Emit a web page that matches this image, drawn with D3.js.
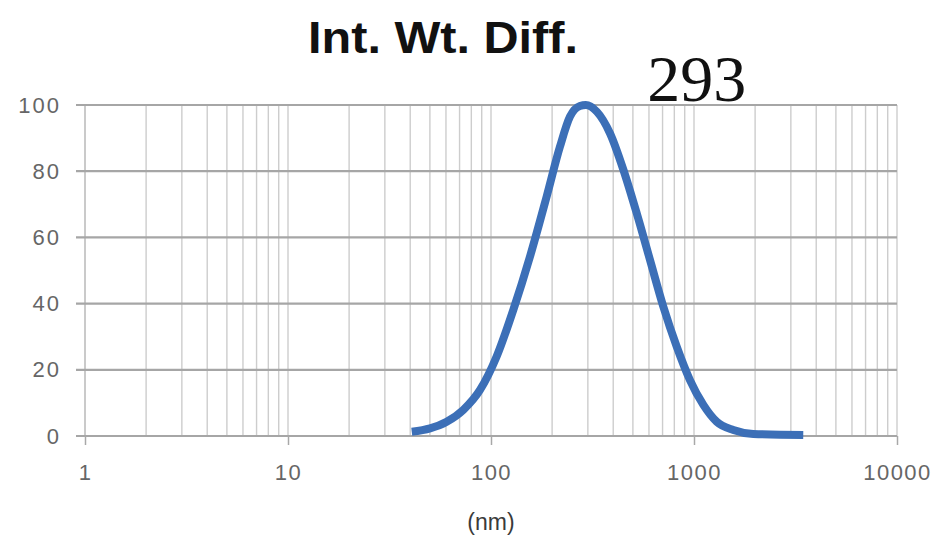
<!DOCTYPE html>
<html>
<head>
<meta charset="utf-8">
<script src="https://cdn.jsdelivr.net/npm/d3@7"></script>
<style>
  html, body { margin: 0; padding: 0; background: #fff; }
  svg { display: block; }
</style>
</head>
<body>
<svg id="chart" width="936" height="536"></svg>
<script>
// Intensity-weighted size distribution (diameter in nm vs. relative intensity)
const sizeNm = [40.7, 50.1, 60.5, 73.1, 88.3, 106.6, 128.8, 155.6, 187.9, 218.6, 245, 274, 293,
                332, 386, 449, 522, 607, 706, 822, 955, 1112, 1294, 1563, 1960, 3453];
const intensity = [1.3, 2.3, 4.3, 7.9, 13.9, 24.0, 38.1, 54.2, 72.3, 87.4, 96.5, 99.7, 100,
                   98.0, 91.4, 80.4, 67.3, 53.2, 39.1, 27.0, 16.9, 9.4, 4.3, 1.8, 0.6, 0.3];

const xTickValues = [1, 10, 100, 1000, 10000];
const xTickLabels = ["1", "10", "100", "1000", "10000"];
const yTickValues = [0, 20, 40, 60, 80, 100];

const titleText = "Int. Wt. Diff.";
const xAxisTitle = "(nm)";
const peakLabel = "293";
const peakSize = 293;
const peakValue = 100;

const svg = d3.select("#chart");
const margin = { left: 85, right: 39, top: 105, bottom: 100 };
const W = 936, H = 536;

const x = d3.scaleLog().domain([1, 10000]).range([margin.left, W - margin.right]);
const y = d3.scaleLinear().domain([0, 100]).range([H - margin.bottom, margin.top]);

// log gridlines: 1..9 in every decade
const minorVals = [];
for (let d = 1; d < 10000; d *= 10) {
  for (let k = 1; k <= 9; k++) minorVals.push(d * k);
}
minorVals.push(10000);

const grid = svg.append("g");
grid.selectAll("line.v")
  .data(minorVals)
  .join("line")
  .attr("class", "v")
  .attr("x1", d => x(d)).attr("x2", d => x(d))
  .attr("y1", y(100)).attr("y2", y(0))
  .attr("stroke", d => d === 1 ? "#b4b4b4" : "#cdcdcd")
  .attr("stroke-width", 1.4);

grid.selectAll("line.h")
  .data(yTickValues)
  .join("line")
  .attr("class", "h")
  .attr("x1", x(1) - 9).attr("x2", x(10000))
  .attr("y1", d => y(d)).attr("y2", d => y(d))
  .attr("stroke", "#a6a6a6")
  .attr("stroke-width", 2.2);

// x axis (log decades)
const xAxis = d3.axisBottom(x)
  .tickValues(xTickValues)
  .tickFormat((d, i) => xTickLabels[i])
  .tickSize(9)
  .tickPadding(19);

const gx = svg.append("g")
  .attr("transform", `translate(0,${y(0)})`)
  .call(xAxis);
gx.select(".domain").remove();
gx.selectAll(".tick line").attr("stroke", "#a8a8a8").attr("stroke-width", 1.5);
gx.selectAll(".tick text")
  .attr("fill", "#666")
  .attr("font-family", "Liberation Sans, Arial, sans-serif")
  .attr("font-size", 22)
  .attr("letter-spacing", 1.5);

// y axis labels
const yAxis = d3.axisLeft(y)
  .tickValues(yTickValues)
  .tickSize(0)
  .tickPadding(24);
const gy = svg.append("g")
  .attr("transform", `translate(${x(1)},0)`)
  .call(yAxis);
gy.select(".domain").remove();
gy.selectAll(".tick text")
  .attr("fill", "#666")
  .attr("font-family", "Liberation Sans, Arial, sans-serif")
  .attr("font-size", 22)
  .attr("letter-spacing", 2);

// distribution curve
const line = d3.line()
  .x((d, i) => x(sizeNm[i]))
  .y(d => y(d))
  .curve(d3.curveMonotoneX);

svg.append("path")
  .datum(intensity)
  .attr("d", line)
  .attr("fill", "none")
  .attr("stroke", "#3c6fb7")
  .attr("stroke-width", 8)
  .attr("stroke-linejoin", "round");

// title
svg.append("text")
  .attr("x", 443)
  .attr("y", 53)
  .attr("text-anchor", "middle")
  .attr("font-family", "Liberation Sans, Arial, sans-serif")
  .attr("font-weight", "bold")
  .attr("font-size", 44)
  .attr("textLength", 270)
  .attr("lengthAdjust", "spacingAndGlyphs")
  .attr("fill", "#111")
  .text(titleText);

// peak label
svg.append("text")
  .attr("x", x(peakSize) + 111)
  .attr("y", y(peakValue) - 4)
  .attr("text-anchor", "middle")
  .attr("font-family", "Liberation Serif, Times New Roman, serif")
  .attr("font-size", 66)
  .attr("fill", "#111")
  .text(peakLabel);

// x axis title
svg.append("text")
  .attr("x", x(100))
  .attr("y", 530)
  .attr("text-anchor", "middle")
  .attr("font-family", "Liberation Sans, Arial, sans-serif")
  .attr("font-size", 23)
  .attr("fill", "#3a3a3a")
  .text(xAxisTitle);
</script>
</body>
</html>
